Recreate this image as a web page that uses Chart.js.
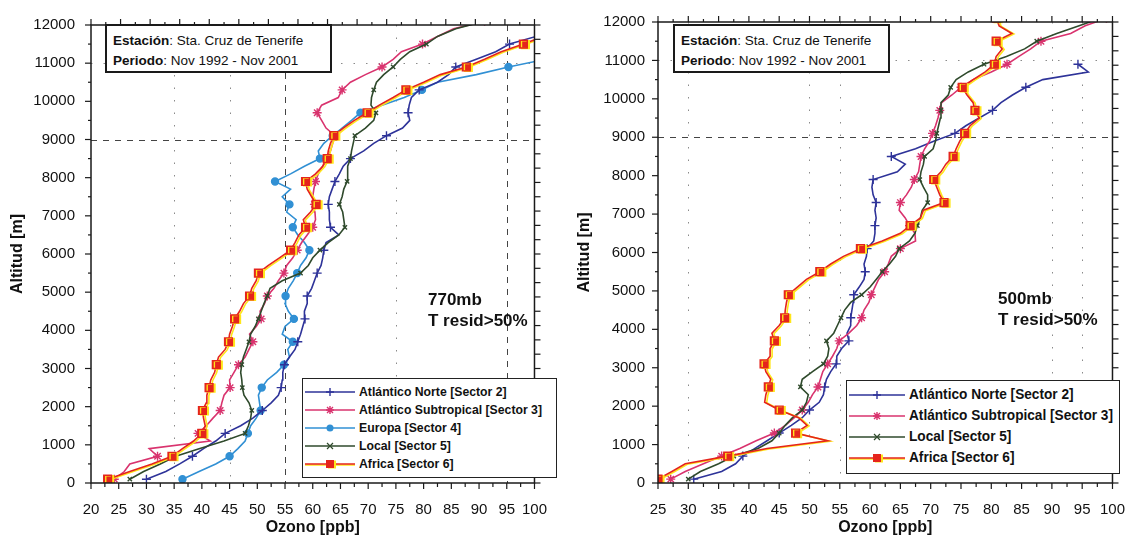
<!DOCTYPE html>
<html>
<head>
<meta charset="utf-8">
<script src="https://cdn.jsdelivr.net/npm/chart.js@4.4.0/dist/chart.umd.min.js"></script>
<style>
  body { margin: 0; background: #fff; width: 1143px; height: 538px; overflow: hidden; position: relative;
         font-family: "Liberation Sans", Arial, sans-serif; color: #111; }
  .panel { position: absolute; top: 0; }
  .info { position: absolute; top: 24px; height: 49px; border: 2px solid #1a1a1a; background: #fff;
          box-sizing: border-box; font-size: 13.5px; line-height: 19.5px; padding: 5px 0 0 6px; white-space: nowrap; }
  .note { position: absolute; font-weight: bold; font-size: 17px; line-height: 21px; white-space: nowrap; }
  .legend { position: absolute; border: 1.5px solid #222; background: #fff; box-sizing: border-box; }
  .legend svg { position: absolute; }
  .legend span { position: absolute; font-weight: bold; white-space: nowrap; transform-origin: left center; }
</style>
</head>
<body>
<div class="panel" style="left:0;width:565px;height:538px"><canvas id="c770" width="565" height="538"></canvas></div>
<div class="panel" style="left:570px;width:573px;height:538px"><canvas id="c500" width="573" height="538"></canvas></div>

<div class="info" style="left:105px;width:227px"><b>Estación</b>: Sta. Cruz de Tenerife<br><b>Periodo</b>: Nov 1992 - Nov 2001</div>
<div class="info" style="left:673px;width:217px"><b>Estación</b>: Sta. Cruz de Tenerife<br><b>Periodo</b>: Nov 1992 - Nov 2001</div>

<div class="note" style="left:428px;top:289px">770mb<br>T resid&gt;50%</div>
<div class="note" style="left:998px;top:288px">500mb<br>T resid&gt;50%</div>

<div id="leg770" class="legend" style="left:302px;top:378px;width:255px;height:100px"></div>
<div id="leg500" class="legend" style="left:846px;top:380px;width:274px;height:94px"></div>

<script>
  // Altitude levels (m) at which the profiles are read
  const altitude = [
    100, 300, 500, 700, 900, 1100, 1300, 1500, 1700, 1900,
    2100, 2300, 2500, 2700, 2900, 3100, 3300, 3500, 3700, 3900,
    4100, 4300, 4500, 4700, 4900, 5100, 5300, 5500, 5700, 5900,
    6100, 6300, 6500, 6700, 6900, 7100, 7300, 7500, 7700, 7900,
    8100, 8300, 8500, 8700, 8900, 9100, 9300, 9500, 9700, 9900,
    10100, 10300, 10500, 10700, 10900, 11100, 11300, 11500, 11700, 11900,
    12100,
  ];

  // 770 mb panel - ozone (ppb)
  const nte770 = [
    30.0, 33.5, 36.0, 38.3, 40.3, 42.5, 44.2, 47.0, 49.2, 50.9,
    52.5, 53.8, 54.3, 54.5, 54.6, 54.9, 55.8, 56.8, 57.3, 57.8,
    58.2, 58.6, 58.5, 59.0, 59.0, 59.8, 60.3, 60.8, 61.5, 61.8,
    62.0, 62.4, 64.7, 63.2, 63.0, 63.0, 62.8, 63.0, 63.5, 64.0,
    64.8, 65.5, 66.8, 69.2, 71.0, 73.3, 76.2, 77.5, 77.2, 77.4,
    77.8, 79.2, 82.5, 84.5, 85.8, 89.5, 93.0, 95.5, 100.3, null,
    null,
  ];
  const sub770 = [
    24.2, 26.0, 27.0, 32.0, 30.5, 41.5, 39.3, 40.8, 42.0, 43.3,
    43.6, 44.0, 45.1, 45.0, 45.8, 46.6, 47.8, 48.5, 49.2, 48.6,
    49.8, 50.7, 50.5, 51.3, 51.8, 53.0, 53.8, 54.8, 55.3, 56.4,
    57.2, 58.0, 59.0, 60.0, 60.5, 60.4, 60.3, 60.0, 60.2, 60.5,
    61.0, 61.8, 62.5, 63.2, 63.6, 64.0, 62.4, 61.6, 60.8, 61.6,
    64.6, 65.3, 66.8, 69.5, 72.5, 74.5, 76.0, 79.8, 82.5, 85.4,
    91.0,
  ];
  const eur770 = [
    36.5, 39.5, 42.5, 45.0, 46.5, 47.8, 48.3, 48.8, 49.8, 50.6,
    50.4, 50.2, 50.8, 51.8, 53.5, 54.8, 55.8, 55.5, 56.4, 54.5,
    55.0, 56.6, 55.6, 55.0, 55.1, 55.6, 56.5, 57.2, 57.8, 58.8,
    59.4, 58.5, 57.3, 56.4, 57.0, 55.3, 55.8, 54.5, 56.0, 53.2,
    56.0, 58.5, 61.3, 61.0, 62.0, 63.6, 65.3, 67.0, 68.6, 72.5,
    76.5, 79.7, 82.5, 89.5, 95.3, 102.0, null, null, null, null,
    null,
  ];
  const loc770 = [
    27.0, 29.5, 32.5, 35.3, 39.5, 44.0, 47.8, 48.4, 48.8, 49.0,
    48.5, 47.6, 47.3, 47.2, 47.0, 47.2, 47.5, 48.0, 48.5, 48.8,
    49.6, 50.2, 50.7, 51.2, 51.8, 52.3, 54.5, 57.8, 59.2, 60.0,
    61.3, 62.8, 64.7, 65.8, 65.6, 65.4, 64.8, 65.3, 65.6, 66.2,
    66.3, 66.3, 66.8, 67.0, 67.3, 67.6, 69.5, 71.0, 71.4, 70.5,
    70.6, 71.0, 71.5, 72.8, 74.5, 75.8, 77.5, 80.5, 82.5, 85.8,
    91.0,
  ];
  const afr770 = [
    23.0, 27.0, 31.0, 34.6, 36.5, 38.5, 40.0, 40.6, 40.3, 40.1,
    40.8, 40.9, 41.3, 41.6, 42.3, 42.6, 43.0, 44.2, 44.8, 45.0,
    45.5, 45.9, 46.8, 47.5, 48.6, 49.0, 49.8, 50.2, 52.0, 54.0,
    56.0, 56.8, 57.5, 58.7, 58.3, 59.6, 60.6, 59.8, 59.0, 58.7,
    60.5, 61.8, 62.6, 62.8, 63.2, 63.8, 65.5, 67.5, 69.8, 72.0,
    74.5, 76.8, 80.0, 83.0, 87.7, 91.0, 94.0, 98.0, 101.5, null,
    null,
  ];

  // 500 mb panel - ozone (ppb)
  const nte500 = [
    30.9, 35.5, 37.8, 39.0, 41.0, 43.0, 45.0, 47.0, 48.8, 50.0,
    51.6, 52.3, 52.5, 52.8, 53.5, 54.4, 54.5, 55.3, 56.5, 56.2,
    56.8, 56.8, 57.0, 57.2, 57.3, 58.2, 59.0, 59.2, 59.0, 59.4,
    59.5, 60.6, 60.8, 60.8, 61.0, 60.8, 61.0, 60.5, 60.3, 60.5,
    64.5, 65.8, 63.5, 67.5, 70.6, 74.0, 75.8, 78.0, 80.2, 81.6,
    83.5, 85.7, 88.5, 96.0, 94.3, null, null, null, null, null,
    null,
  ];
  const sub500 = [
    27.1, 29.5, 32.5, 35.5, 38.5, 41.2, 44.2, 46.0, 47.5, 48.8,
    49.8, 50.5, 51.4, 51.8, 52.2, 53.0, 53.8, 54.5, 54.9, 56.5,
    57.8, 58.6, 59.0, 59.8, 60.2, 60.8, 61.4, 62.4, 63.0, 63.5,
    65.0, 67.5, 67.4, 66.5, 65.8, 64.8, 65.0, 66.0, 66.8, 67.3,
    68.0, 68.2, 68.4, 69.0, 69.8, 70.3, 70.8, 71.2, 71.5, 71.8,
    73.5, 75.0, 77.0, 80.0, 82.6, 84.5, 86.5, 88.2, 93.1, 95.5,
    99.0,
  ];
  const loc500 = [
    30.0, 32.0, 35.0, 37.5, 41.5, 43.8, 45.0, 46.0, 47.2, 48.8,
    49.5, 49.8, 48.5, 48.8, 50.5, 52.3, 53.0, 53.2, 52.8, 54.0,
    54.6, 55.2, 55.8, 56.8, 58.6, 60.0, 61.0, 62.0, 63.2, 64.2,
    64.8, 66.5, 67.4, 67.8, 68.3, 68.6, 69.5, 69.5, 68.8, 68.2,
    68.4, 68.8, 69.0, 70.4, 70.8, 71.0, 71.3, 71.6, 71.7, 71.7,
    72.9, 73.3, 74.2, 76.2, 78.8, 82.5, 85.5, 87.5, 90.8, 94.5,
    98.0,
  ];
  const afr500 = [
    25.0, 27.3, 29.5, 36.5, 43.0, 53.0, 47.7, 49.6, 48.2, 45.0,
    42.6, 42.8, 43.2, 43.6, 42.8, 42.5, 43.5, 43.5, 44.2, 43.8,
    45.0, 45.9, 46.0, 46.2, 46.5, 48.0, 49.5, 51.7, 53.5, 55.6,
    58.4, 62.0, 65.0, 66.6, 68.3, 68.8, 72.2, 71.5, 71.0, 70.5,
    71.7, 72.5, 73.7, 74.2, 74.8, 75.6, 76.5, 78.0, 77.3, 77.0,
    76.0, 75.2, 77.0, 79.0, 80.5, 80.8, 81.8, 80.8, 83.4, 81.3,
    80.8,
  ];

  const FONT = '"Liberation Sans", Arial, sans-serif';

  // Look of each sector
  const styles = {
    nte: { label: "Atlántico Norte [Sector 2]", color: "#2e3399", point: "cross", r: 4.5 },
    sub: { label: "Atlántico Subtropical [Sector 3]", color: "#d9336e", point: "star", r: 4.5 },
    eur: { label: "Europa [Sector 4]", color: "#3190d4", point: "circle", r: 3.5 },
    loc: { label: "Local [Sector 5]", color: "#2f4a2c", point: "crossRot", r: 3 },
    afr: { label: "Africa [Sector 6]", color: "#e5241c", point: "rect", r: 5.5, shadow: "#ffe61a" },
  };

  function makeDataset(st, values, order) {
    return {
      label: st.label,
      data: altitude.map((a, i) => ({ x: values[i], y: a })).filter((p) => p.x !== null),
      showLine: true,
      borderColor: st.color,
      backgroundColor: st.color,
      borderWidth: 1.6,
      pointStyle: st.point,
      pointRadius: (ctx) => (ctx.dataIndex % 3 === 0 ? st.r : 0),
      pointHoverRadius: 0,
      pointBorderWidth: 1.4,
      pointBorderColor: st.color,
      pointBackgroundColor: st.color,
      shadowColor: st.shadow,
      order: order,
    };
  }

  // Yellow offset "shadow" drawn under the Africa profile
  const shadowPlugin = {
    id: "shadow",
    beforeDatasetDraw(chart, args) {
      const ds = chart.data.datasets[args.index];
      if (!ds.shadowColor) return;
      const ctx = chart.ctx;
      ctx.save();
      ctx.shadowColor = ds.shadowColor;
      ctx.shadowOffsetX = 2;
      ctx.shadowOffsetY = 0.5;
      ctx.shadowBlur = 0;
    },
    afterDatasetDraw(chart, args) {
      if (chart.data.datasets[args.index].shadowColor) chart.ctx.restore();
    },
  };

  // Reference lines, box frame and outward tick marks on all four sides
  const framePlugin = {
    id: "frame",
    beforeDatasetsDraw(chart, args, opts) {
      const { ctx, chartArea: a } = chart;
      const x = chart.scales.x, y = chart.scales.y;
      const seg = (x1, y1, x2, y2) => { ctx.beginPath(); ctx.moveTo(x1, y1); ctx.lineTo(x2, y2); ctx.stroke(); };
      ctx.save();
      ctx.lineWidth = 1;
      ctx.strokeStyle = "#444";
      ctx.setLineDash([6, 6]);
      (opts.dashY || []).forEach((v) => { const p = Math.round(y.getPixelForValue(v)) + 0.5; seg(a.left, p, a.right, p); });
      (opts.dashX || []).forEach((v) => { const p = Math.round(x.getPixelForValue(v)) + 0.5; seg(p, a.top, p, a.bottom); });
      ctx.strokeStyle = "#8a8a8a";
      ctx.setLineDash([1.5, 11]);
      (opts.dotY || []).forEach((v) => { const p = Math.round(y.getPixelForValue(v)) + 0.5; seg(a.left, p, a.right, p); });
      (opts.dotX || []).forEach((v) => { const p = Math.round(x.getPixelForValue(v)) + 0.5; seg(p, a.top, p, a.bottom); });
      ctx.restore();
    },
    afterDatasetsDraw(chart, args, opts) {
      const { ctx, chartArea: a } = chart;
      const x = chart.scales.x, y = chart.scales.y;
      const seg = (x1, y1, x2, y2) => { ctx.beginPath(); ctx.moveTo(x1, y1); ctx.lineTo(x2, y2); ctx.stroke(); };
      ctx.save();
      ctx.strokeStyle = "#1a1a1a";
      ctx.lineWidth = 1.5;
      ctx.strokeRect(a.left, a.top, a.right - a.left, a.bottom - a.top);
      ctx.lineWidth = 1.2;
      // bottom axis: major every 5, minor every 2.5
      for (let v = x.min; v <= x.max + 1e-6; v += 2.5) {
        const p = x.getPixelForValue(v);
        const major = Math.abs(v / 5 - Math.round(v / 5)) < 1e-6;
        seg(p, a.bottom, p, a.bottom + (major ? 6 : 4));
      }
      // left axis: major every 1000, minor every 500
      for (let v = 0; v <= 12000; v += 500) {
        const p = y.getPixelForValue(v);
        seg(a.left, p, a.left - (v % 1000 === 0 ? 6 : 3), p);
      }
      // top axis: its own divisions with half-step minors
      const w = a.right - a.left;
      for (let i = 0; i <= opts.topDiv * 2; i++) {
        const p = a.left + (w * i) / (opts.topDiv * 2);
        seg(p, a.top, p, a.top - (i % 2 === 0 ? 6 : 3));
      }
      // right axis: its own divisions
      const h = a.bottom - a.top;
      for (let i = 0; i <= opts.rightDiv; i++) {
        const p = a.top + (h * i) / opts.rightDiv;
        seg(a.right, p, a.right + 6, p);
      }
      ctx.restore();
    },
  };

  function panelOptions(p) {
    return {
      responsive: false,
      animation: false,
      layout: { padding: { top: 15, right: p.padRight, left: 0, bottom: 0 } },
      plugins: {
        legend: { display: false },
        tooltip: { enabled: false },
        frame: p.frame,
      },
      scales: {
        x: {
          type: "linear",
          position: "bottom",
          min: p.xMin,
          max: 100,
          afterFit: (s) => { s.height = 55; },
          grid: { display: false, drawTicks: false },
          border: { display: false },
          ticks: { stepSize: 5, padding: 18, autoSkip: false, maxRotation: 0, color: "#111", font: { family: FONT, size: 15 } },
          title: { display: true, text: "Ozono [ppb]", color: "#111", font: { family: FONT, size: 16, weight: "bold" }, padding: { top: 0, bottom: 1 } },
        },
        y: {
          type: "linear",
          position: "left",
          min: 0,
          max: 12000,
          afterFit: (s) => { s.width = p.yWidth; },
          grid: { display: false, drawTicks: false },
          border: { display: false },
          ticks: {
            stepSize: 1000,
            padding: p.yPad,
            color: "#111",
            font: { family: FONT, size: 15 },
            callback: (v) => String(v),
          },
          title: { display: true, text: "Altitud [m]", color: "#111", font: { family: FONT, size: 16, weight: "bold" }, padding: { top: p.yTitlePad, bottom: 0 } },
        },
      },
    };
  }

  new Chart(document.getElementById("c770"), {
    type: "scatter",
    data: {
      datasets: [
        makeDataset(styles.nte, nte770, 3),
        makeDataset(styles.sub, sub770, 2),
        makeDataset(styles.eur, eur770, 4),
        makeDataset(styles.loc, loc770, 1),
        makeDataset(styles.afr, afr770, 0),
      ],
    },
    options: panelOptions({
      xMin: 20, padRight: 10, yWidth: 91, yPad: 16, yTitlePad: 8,
      frame: { dashY: [9000], dashX: [55, 95], dotY: [11000], dotX: [35, 45, 75], topDiv: 15, rightDiv: 32 },
    }),
    plugins: [shadowPlugin, framePlugin],
  });

  new Chart(document.getElementById("c500"), {
    type: "scatter",
    data: {
      datasets: [
        makeDataset(styles.nte, nte500, 3),
        makeDataset(styles.sub, sub500, 2),
        makeDataset(styles.loc, loc500, 1),
        makeDataset(styles.afr, afr500, 0),
      ],
    },
    options: panelOptions({
      xMin: 25, padRight: 16, yWidth: 88, yPad: 13, yTitlePad: 5,
      frame: { dashY: [9000], dashX: [], dotY: [11000], dotX: [30, 50, 55, 90, 95], topDiv: 15, rightDiv: 32 },
    }),
    plugins: [shadowPlugin, framePlugin],
  });

  /**
   * Legend drawn as HTML boxes inside each panel
   */
  function glyph(st, w) {
    const c = w / 2, y = 7, col = st.color;
    let m = "";
    if (st.point === "cross") m = `<path d="M${c - 4} ${y}H${c + 4}M${c} ${y - 4}V${y + 4}" stroke="${col}" stroke-width="1.4"/>`;
    if (st.point === "star") m = `<path d="M${c - 4} ${y}H${c + 4}M${c} ${y - 4}V${y + 4}M${c - 3} ${y - 3}L${c + 3} ${y + 3}M${c - 3} ${y + 3}L${c + 3} ${y - 3}" stroke="${col}" stroke-width="1.4"/>`;
    if (st.point === "circle") m = `<circle cx="${c}" cy="${y}" r="3.5" fill="${col}"/>`;
    if (st.point === "crossRot") m = `<path d="M${c - 3} ${y - 3}L${c + 3} ${y + 3}M${c - 3} ${y + 3}L${c + 3} ${y - 3}" stroke="${col}" stroke-width="1.2"/>`;
    if (st.point === "rect") m = `<rect x="${c - 2}" y="${y - 3.5}" width="8" height="8" fill="${st.shadow}"/><rect x="${c - 4}" y="${y - 4}" width="8" height="8" fill="${col}"/>`;
    const shadowLine = st.shadow ? `<line x1="0" y1="${y + 1}" x2="${w}" y2="${y + 1}" stroke="${st.shadow}" stroke-width="1.6"/>` : "";
    return `${shadowLine}<line x1="0" y1="${y}" x2="${w}" y2="${y}" stroke="${col}" stroke-width="1.6"/>${m}`;
  }

  function buildLegend(id, entries, cfg) {
    const box = document.getElementById(id);
    let widest = null;
    entries.forEach((st, i) => {
      const svg = document.createElementNS("http://www.w3.org/2000/svg", "svg");
      svg.setAttribute("width", cfg.lineW);
      svg.setAttribute("height", 14);
      svg.style.left = cfg.lineX + "px";
      svg.style.top = cfg.rows[i] - 7 + "px";
      svg.innerHTML = glyph(st, cfg.lineW);
      box.appendChild(svg);
      const span = document.createElement("span");
      span.textContent = st.label;
      span.style.left = cfg.textX + "px";
      span.style.top = cfg.rows[i] - cfg.size * 0.6 + "px";
      span.style.fontSize = cfg.size + "px";
      span.style.lineHeight = cfg.size * 1.2 + "px";
      box.appendChild(span);
      if (st === styles.sub) widest = span;
    });
    const scale = cfg.targetW / widest.getBoundingClientRect().width;
    box.querySelectorAll("span").forEach((s) => { s.style.transform = `scaleX(${scale})`; });
  }

  buildLegend("leg770", [styles.nte, styles.sub, styles.eur, styles.loc, styles.afr],
    { lineX: 2, lineW: 50, textX: 56, rows: [13, 31, 49, 67, 85], size: 13, targetW: 183 });
  buildLegend("leg500", [styles.nte, styles.sub, styles.loc, styles.afr],
    { lineX: 2, lineW: 56, textX: 62, rows: [14, 35, 56, 77], size: 14.5, targetW: 204 });
</script>
</body>
</html>
